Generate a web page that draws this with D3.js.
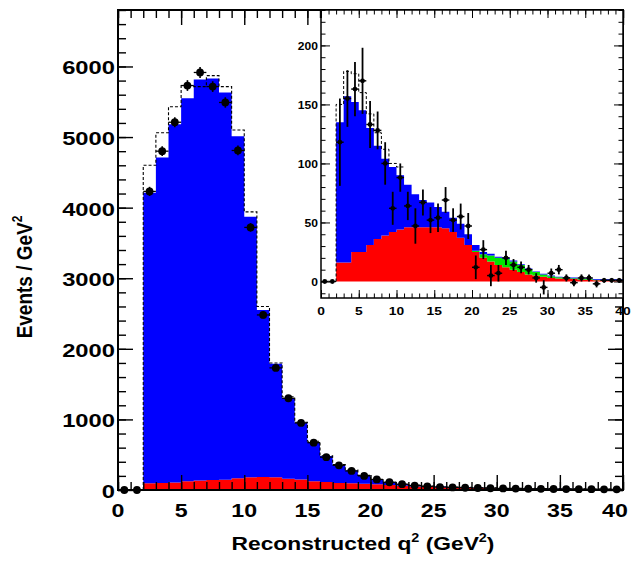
<!DOCTYPE html>
<html><head><meta charset="utf-8">
<script src="https://cdn.jsdelivr.net/npm/d3@7"></script>
<style>
body{margin:0;background:#fff}
svg{display:block}
text{font-family:"Liberation Sans",Arial,Helvetica,sans-serif;font-weight:bold;fill:#000}
</style>
</head><body>
<svg id="c" width="631" height="562"></svg>
<script>
// ---------- data (1 GeV^2 bins, lower edges 0..39) ----------
const binEdges = d3.range(0, 41);
const mainRed = [0,0,95,100,105,125,135,140,145,165,180,185,180,160,150,125,115,100,95,90,80,70,60,50,45,40,35,30,27,24,21,18,16,14,12,11,10,9,8,7];
const mainBlue = [0,0,4115,4610,5075,5425,5680,5690,5485,4845,3690,2365,1610,1145,800,555,365,255,185,115,70,42,25,18,11,8,7,7,6,6,6,6,6,6,6,5,5,5,5,5];
const mainDashed = [0,0,4600,5060,5430,5730,5715,5870,5715,5100,3940,2600,1800,1320,960,690,485,360,283,207,152,113,86,69,57,49,43,38,34,31,28,25,23,21,19,17,16,15,14,13];
const mainData = [0,0,4230,4800,5210,5730,5915,5715,5490,4810,3720,2480,1730,1300,950,670,465,350,270,200,150,110,82,62,50,42,36,32,28,25,22,20,18,16,14,13,12,11,10,9];
const mainErr = [5,5,65,70,72,76,77,76,74,69,61,50,42,36,31,26,22,19,16,14,12,10,9,8,7,6,6,6,5,5,5,5,4,4,4,4,3,3,3,3];

const insetRed = [0,0,16,16,25,25,31,36,39,42,44,46,46,46,46,46,45,42,37,31,25,20,17,14,12,10,8,6,5,4,3,2.5,2,2,1.5,1.5,1,1,1,1];
const insetGreen = [0,0,0,0,0,0,0,0,0,0,0,0,0,0,0,0,0,0,0,0,1,3,5,6,7,7,6,4.5,3,2,1.5,1,1,0.8,0.6,0.5,0.5,0.5,0.5,0.5];
const insetBlue = [0,0,119,141,127,120,99,79,65,55,46,36,28,23,21,17,14,12,12,9,5,2,1.5,1,1,0.8,0.5,0.5,0.5,0.5,0.5,0.5,0.5,0.5,0.5,0.5,0.5,0.5,0.5,0.5];
const insetDashedStart = 2;
const insetDashed = [150,178,176,160,142,126,112,100,97];
const insetData = [0,0,118,155,163,170,133,128,100,62,88,64,47,67,52,54,69,52,55,47,12,27,5,7,20,14,12,10,3,-5,7,10,3,-1,3,3,-2,1,1,1];
const insetErr = [1,1,37,24,23,28,20,16,18,14,12,12,15,11,11,12,11,10,11,11,10,8,9,7,6,5,5,4,4,6,4,4,3,3,3,3,3,2,2,2];

const mainXTicks = [0,5,10,15,20,25,30,35,40];
const mainYTicks = [0,1000,2000,3000,4000,5000,6000];
const insetXTicks = [0,5,10,15,20,25,30,35,40];
const insetYTicks = [0,50,100,150,200];

const colRed = "#ff0000", colBlue = "#0000ff", colGreen = "#00e600";

// ---------- helpers ----------
const svg = d3.select("#c");
const lo = binEdges.slice(0, 40);

function stepSeries(s) {
  const pts = s.map((d, i) => ({q: lo[i], a: d[0], b: d[1]}));
  const last = pts[pts.length - 1];
  pts.push({q: binEdges[40], a: last.a, b: last.b});
  return pts;
}

function drawStack(g, xs, ys, keys, arrays, colors) {
  const rows = lo.map((q, i) => {
    const r = {q};
    keys.forEach((k, j) => r[k] = arrays[j][i]);
    return r;
  });
  const series = d3.stack().keys(keys)(rows);
  const area = d3.area().curve(d3.curveStepAfter)
    .x(d => xs(d.q)).y0(d => ys(d.a)).y1(d => ys(d.b));
  series.forEach((s, j) => {
    g.append("path").datum(stepSeries(s)).attr("d", area)
      .attr("fill", colors[j]).attr("stroke", "none");
  });
}

function drawDashed(g, xs, ys, start, vals, w) {
  const pts = [[start, 0]];
  vals.forEach((v, i) => pts.push([start + i, v]));
  pts.push([start + vals.length, vals[vals.length - 1]]);
  const line = d3.line().curve(d3.curveStepAfter).x(d => xs(d[0])).y(d => ys(d[1]));
  g.append("path").datum(pts).attr("d", line).attr("fill", "none")
    .attr("stroke", "#000").attr("stroke-width", w).attr("stroke-dasharray", "3,2");
}

function drawPoints(g, xs, ys, vals, errs, r, ew) {
  const pts = lo.map((q, i) => ({q, v: vals[i], e: errs[i]}));
  const sel = g.append("g").selectAll("g").data(pts).join("g");
  sel.append("line").attr("x1", d => xs(d.q)).attr("x2", d => xs(d.q + 1))
    .attr("y1", d => ys(d.v)).attr("y2", d => ys(d.v))
    .attr("stroke", "#000").attr("stroke-width", ew * 0.8);
  sel.append("line").attr("x1", d => xs(d.q + 0.5)).attr("x2", d => xs(d.q + 0.5))
    .attr("y1", d => ys(d.v - d.e)).attr("y2", d => ys(d.v + d.e))
    .attr("stroke", "#000").attr("stroke-width", ew);
  sel.append("circle").attr("cx", d => xs(d.q + 0.5)).attr("cy", d => ys(d.v))
    .attr("r", r).attr("fill", "#000");
}

function drawFrame(g, xs, ys, o) {
  const [xa, xb] = xs.range(), [yb, ya] = ys.range();
  const xd = xs.domain(), yd = ys.domain();
  const minorX = d3.range(Math.ceil(xd[0]), xd[1] + 0.001, o.xMinor);
  const minorY = d3.range(Math.ceil(yd[0] / o.yMinor) * o.yMinor, yd[1] + 0.001, o.yMinor);
  const strip = s => s.call(a => a.select(".domain").remove())
    .call(a => a.selectAll("line").attr("stroke", "#000").attr("stroke-width", o.tw));
  [[minorX, o.minLen], [o.xMajor, o.majLen]].forEach(([vals, len]) => {
    g.append("g").attr("transform", `translate(0,${yb})`)
      .call(d3.axisBottom(xs).tickValues(vals).tickSize(-len).tickFormat("")).call(strip);
    g.append("g").attr("transform", `translate(0,${ya})`)
      .call(d3.axisTop(xs).tickValues(vals).tickSize(-len).tickFormat("")).call(strip);
  });
  [[minorY, o.minLenY], [o.yMajor, o.majLenY]].forEach(([vals, len]) => {
    g.append("g").attr("transform", `translate(${xa},0)`)
      .call(d3.axisLeft(ys).tickValues(vals).tickSize(-len).tickFormat("")).call(strip);
    g.append("g").attr("transform", `translate(${xb},0)`)
      .call(d3.axisRight(ys).tickValues(vals).tickSize(-len).tickFormat("")).call(strip);
  });
  g.append("rect").attr("x", xa).attr("y", ya).attr("width", xb - xa).attr("height", yb - ya)
    .attr("fill", "none").attr("stroke", "#000").attr("stroke-width", o.fw);
  // tick labels (the last one is kept inside the page if it would overflow)
  g.append("g").selectAll("text").data(o.xMajor).join("text")
    .attr("transform", d => {
      const px = Math.min(xs(d), o.xLabMax || 1e9);
      return `translate(${px},${yb + o.xLabOff}) scale(${o.sx},1)`;
    })
    .attr("text-anchor", "middle").attr("font-size", o.fsX).text(d => d);
  g.append("g").selectAll("text").data(o.yMajor).join("text")
    .attr("transform", d => `translate(${xa - o.yLabOff},${ys(d)}) scale(${o.sy},1)`)
    .attr("text-anchor", "end").attr("dy", "0.42em").attr("font-size", o.fsY).text(d => d);
}

// ---------- main panel ----------
const x = d3.scaleLinear([0, 40], [118, 623]);
const y = d3.scaleLinear([0, 6800], [490, 10]);
svg.append("clipPath").attr("id", "cm").append("rect").attr("x", 118).attr("y", 10).attr("width", 505).attr("height", 480);
const gm = svg.append("g");
const gmc = gm.append("g").attr("clip-path", "url(#cm)");
drawStack(gmc, x, y, ["red", "blue"], [mainRed, mainBlue], [colRed, colBlue]);
drawDashed(gmc, x, y, 2, mainDashed.slice(2), 1.1);
drawPoints(gm, x, y, mainData, mainErr, 3.9, 1.6);
drawFrame(gm, x, y, {
  xMajor: mainXTicks, yMajor: mainYTicks, xMinor: 1, yMinor: 200,
  majLen: 15, minLen: 8, majLenY: 15, minLenY: 8, tw: 1.4, fw: 2,
  xLabOff: 27, yLabOff: 3, sx: 1.22, sy: 1.25, fsX: 19, fsY: 19, xLabMax: 615
});

// axis titles
const xt = svg.append("text").attr("transform", "translate(363,550) scale(1.2,1)")
  .attr("text-anchor", "middle").attr("font-size", 19);
xt.append("tspan").text("Reconstructed q");
xt.append("tspan").attr("font-size", 12).attr("dy", -8).text("2");
xt.append("tspan").attr("dy", 8).text(" (GeV");
xt.append("tspan").attr("font-size", 12).attr("dy", -8).text("2");
xt.append("tspan").attr("dy", 8).text(")");
const yt = svg.append("text").attr("transform", "translate(32,277) scale(1.2,1) rotate(-90)")
  .attr("text-anchor", "middle").attr("font-size", 19);
yt.append("tspan").text("Events / GeV");
yt.append("tspan").attr("font-size", 12).attr("dy", -8).text("2");

// ---------- inset panel ----------
const xi = d3.scaleLinear([0, 40], [321, 623]);
const yi = d3.scaleLinear([-14, 230], [298, 10]);
const gi = svg.append("g");
gi.append("rect").attr("x", 321).attr("y", 10).attr("width", 302).attr("height", 288).attr("fill", "#fff");
svg.append("clipPath").attr("id", "ci").append("rect").attr("x", 321).attr("y", 10).attr("width", 302).attr("height", 288);
const gic = gi.append("g").attr("clip-path", "url(#ci)");
drawStack(gic, xi, yi, ["red", "green", "blue"], [insetRed, insetGreen, insetBlue], [colRed, colGreen, colBlue]);
drawDashed(gic, xi, yi, insetDashedStart, insetDashed, 1);
drawPoints(gic, xi, yi, insetData, insetErr, 2.4, 1.8);
drawFrame(gi, xi, yi, {
  xMajor: insetXTicks, yMajor: insetYTicks, xMinor: 1, yMinor: 10,
  majLen: 8, minLen: 4.5, majLenY: 9, minLenY: 4.5, tw: 1, fw: 1.5,
  xLabOff: 17, yLabOff: 3, sx: 1.2, sy: 1.15, fsX: 11.5, fsY: 10.5
});
</script>
</body></html>
